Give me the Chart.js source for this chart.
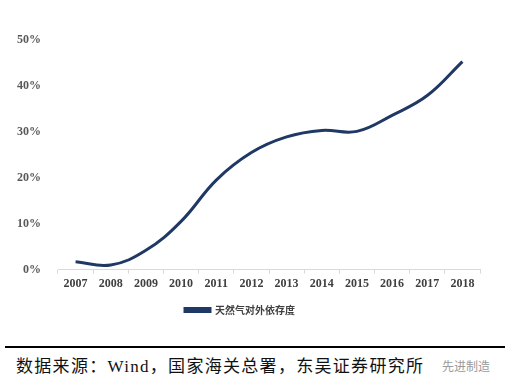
<!DOCTYPE html>
<html>
<head>
<meta charset="utf-8">
<script src="https://cdn.jsdelivr.net/npm/chart.js@4/dist/chart.umd.min.js"></script>
<style>
  html, body { margin: 0; padding: 0; background: #fff; }
  #wrap { position: relative; width: 515px; height: 389px; overflow: hidden; }
  #box { position: absolute; left: 0; top: 0; width: 515px; height: 325px; }
  #rule { position: absolute; left: 5px; top: 346px; width: 500px; height: 2px; background: #000; }
  #src { position: absolute; left: 16px; top: 352px; font: 17px "Liberation Serif", "Noto Sans CJK SC", serif; color: #111; white-space: nowrap; letter-spacing: 1.3px; }
  #wm { position: absolute; left: 442px; top: 357px; font: 12px "Noto Sans CJK SC", sans-serif; color: #9a9a9a; }
</style>
</head>
<body>
<div id="wrap">
  <div id="box"><canvas id="c"></canvas></div>
  <div id="rule"></div>
  <div id="src">数据来源：Wind，国家海关总署，东吴证券研究所</div>
  <div id="wm">先进制造</div>
</div>
<script>
const years = ["2007", "2008", "2009", "2010", "2011", "2012", "2013", "2014", "2015", "2016", "2017", "2018"];
const dependence = [1.7, 1.0, 4.2, 10.5, 19.5, 25.5, 28.9, 30.3, 30.1, 33.6, 37.9, 45.3];
const seriesName = "天然气对外依存度";
const yTicks = [0, 10, 20, 30, 40, 50];

const NAVY = "#1f3864";
const serifBold = { family: "'Liberation Serif', 'Times New Roman', serif", size: 12, weight: "bold" };

new Chart(document.getElementById("c"), {
  type: "line",
  data: {
    labels: years,
    datasets: [{
      label: seriesName, data: dependence,
      borderColor: NAVY, backgroundColor: NAVY, borderWidth: 3,
      pointRadius: 0, tension: 0.4, cubicInterpolationMode: "default",
    }],
  },
  options: {
    responsive: true, maintainAspectRatio: false, animation: false,
    layout: { padding: { top: 40, right: 35, left: 0, bottom: 0 } },
    plugins: {
      tooltip: { enabled: false },
      legend: {
        position: "bottom",
        labels: {
          boxWidth: 25, boxHeight: 3, padding: 11, color: "#404040",
          font: { family: "'Noto Sans CJK SC', sans-serif", size: 10, weight: "bold" },
        },
      },
    },
    scales: {
      x: {
        offset: true,
        grid: { display: true, drawOnChartArea: false, drawTicks: true, tickLength: 4, color: "#d9d9d9", offset: true },
        border: { display: true, color: "#d9d9d9" },
        ticks: { color: "#404040", font: serifBold, padding: 3, maxRotation: 0 },
      },
      y: {
        min: 0, max: 50,
        afterFit: (s) => { s.width = 58; },
        afterBuildTicks: (s) => { s.ticks = yTicks.map((v) => ({ value: v })); },
        grid: { display: false },
        border: { display: false },
        ticks: { color: "#595959", font: serifBold, padding: 9, callback: (v) => v + "%" },
      },
    },
  },
});
</script>
</body>
</html>
